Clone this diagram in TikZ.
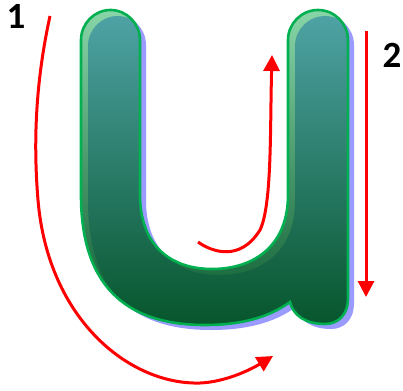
\documentclass[tikz,border=0pt]{standalone}
\usepackage{fontspec}
\newfontfamily\numfont{Carlito}
\usetikzlibrary{arrows.meta}
\definecolor{strokered}{RGB}{255,0,0}
\definecolor{rimgreen}{RGB}{0,176,80}
\definecolor{topteal}{RGB}{78,162,164}
\definecolor{basegreen}{RGB}{5,84,42}
\definecolor{glowgreen}{RGB}{136,214,168}
\definecolor{glowbase}{RGB}{10,90,46}
\definecolor{shadowblue}{RGB}{155,155,255}
% outline of the letter, in pixels of the page
\newcommand\letterpath{(81,40) .. controls (81,23.7) and (94.2,10) .. (110.5,10)
  .. controls (126.8,10) and (140,23.7) .. (140,40) -- (140,195)
  .. controls (140,245) and (170,269) .. (212,269)
  .. controls (255,269) and (288,245) .. (288,195) -- (288,40)
  .. controls (288,23.7) and (301.4,10) .. (318,10)
  .. controls (334.6,10) and (348,23.7) .. (348,40) -- (348,298)
  .. controls (348,315) and (338,324) .. (325,324)
  .. controls (305,324) and (293,315) .. (290,302)
  .. controls (268,318) and (240,325) .. (205,325)
  .. controls (125,325) and (81,285) .. (81,195) -- cycle}
\tikzset{
  strokearrow/.style={draw=strokered,line width=3pt,-{Triangle[length=16pt,width=16pt]}},
  shadowfill/.style={fill=shadowblue},
  glowfill/.style={top color=glowgreen,bottom color=glowbase},
  bodyfill/.style={top color=topteal,bottom color=basegreen},
  rimline/.style={draw=rimgreen,line width=2.6pt},
  numlabel/.style={font=\numfont\bfseries\fontsize{37}{42}\selectfont,inner sep=0pt}
}
\begin{document}
\begin{tikzpicture}[x=1pt,y=-1pt]
  \useasboundingbox (0,0) rectangle (403,390);
  % letter with its shadow
  \path[shadowfill,shift={(6,5)}] \letterpath;
  \begin{scope}
    \clip \letterpath;
    \path[glowfill] \letterpath;
    \path[bodyfill,shift={(7,6)}] \letterpath;
  \end{scope}
  \path[rimline] \letterpath;
  % strokes
  \coordinate (s1) at (50,16);
  \coordinate (e1) at (273,356);
  \coordinate (s2) at (366,31);
  \coordinate (e2) at (366,297);
  \coordinate (s3) at (198,242);
  \coordinate (e3) at (272,55);
  \draw[strokearrow] (s1) .. controls (36,80) and (33,140) .. (38,200)
    .. controls (48,320) and (130,385) .. (200,383)
    .. controls (225,382) and (250,370) .. (e1);
  \draw[strokearrow] (s2) -- (e2);
  \draw[strokearrow] (s3) .. controls (212,252) and (240,262) .. (260,230)
    .. controls (272,205) and (270,130) .. (e3);
  \node[numlabel] (one) at (16,16) {1};
  \node[numlabel] (two) at (392,55) {2};
\end{tikzpicture}
\end{document}
